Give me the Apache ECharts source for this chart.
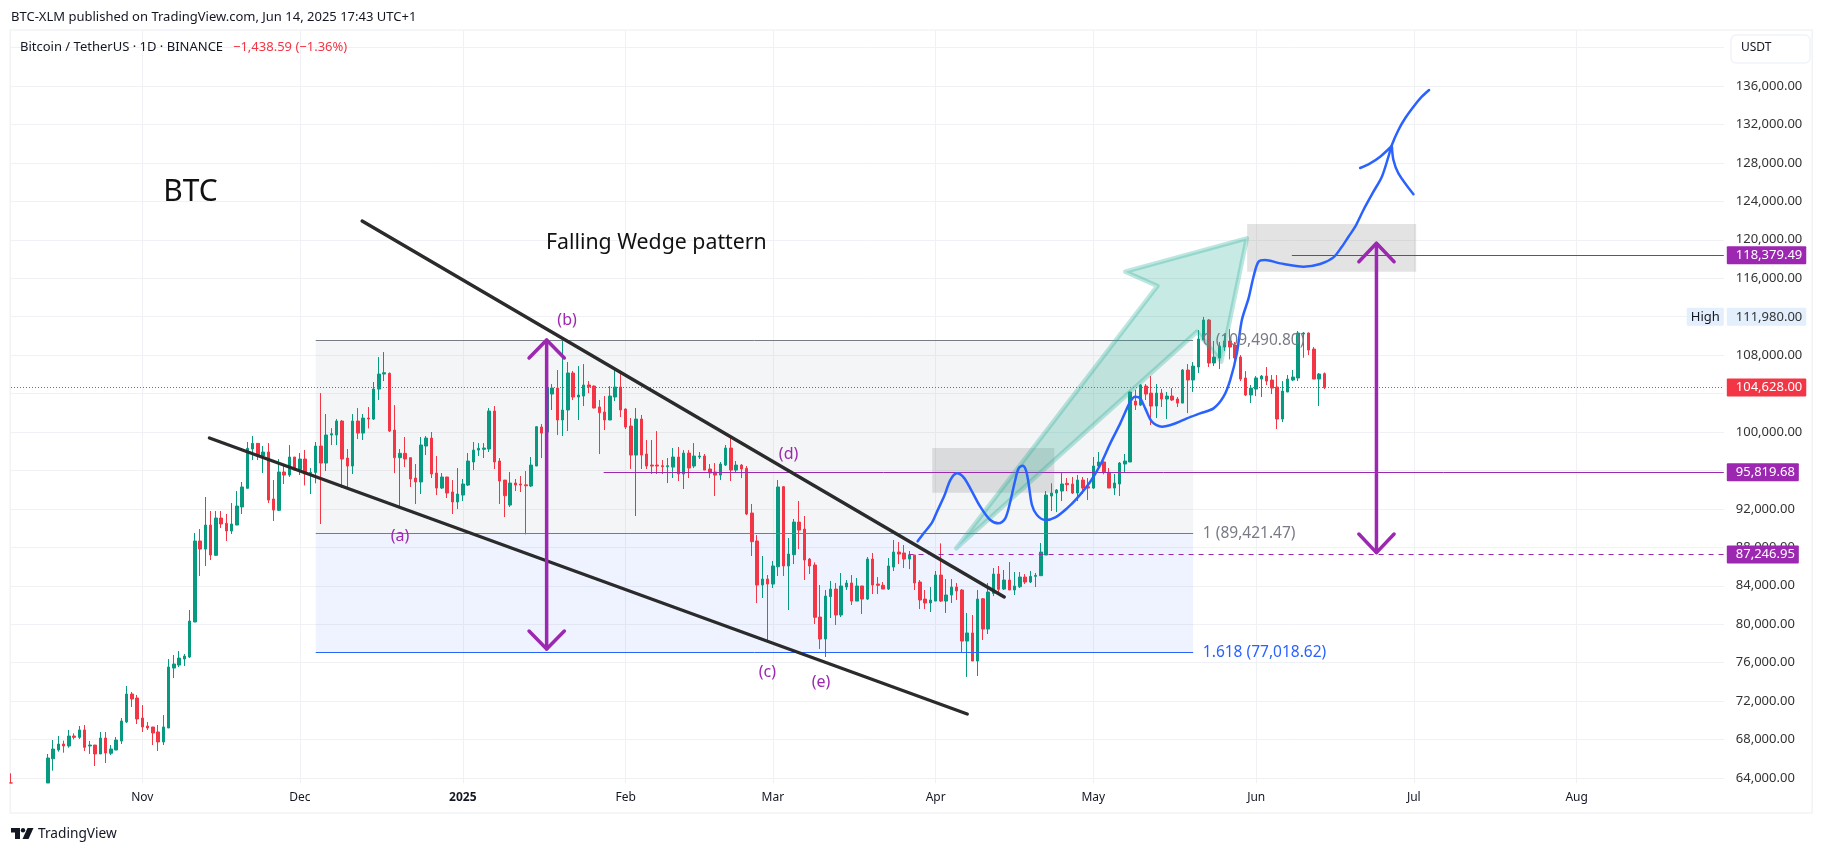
<!DOCTYPE html>
<html lang="en">
<head>
    <meta charset="UTF-8">
    <title>BTC Falling Wedge</title>
    <style>
        html, body { margin: 0; padding: 0; background: #fff; }
    </style>
</head>
<body>
<div id="main" style="width: 1824px;height:853px;"></div>
<script src="https://cdn.jsdelivr.net/npm/echarts@6/dist/echarts.min.js"></script>
<script type="text/javascript">
    // daily candles, each one is [open, close, low, high]
    // the lows of the first days run below the pane, so they stop at the pane edge
    var gap = ['-', '-', '-', '-'];
    var oct2024 = [
        [63490,63480,63480,64490], gap, gap, gap, gap, gap, gap,
        [63480,66080,63480,66500], [66000,67017,64763,67950], [66913,67537,66740,68370], [67537,67330,66635,67884],
        [67330,68370,67150,69000], [68370,68230,68020,68650], [68230,69000,68060,69410], [69000,67190,66810,69510],
        [67330,67430,66500,67850], [67430,66500,65250,67430], [66500,68160,66500,68790], [68160,66600,65560,68790],
        [66570,67020,66390,67430], [66910,67950,66910,68260], [67850,69930,67540,70240], [69830,72740,69720,73570],
        [72740,72220,71390,72950], [72320,70140,69620,72640]
    ];
    var nov2024 = [
        [70240,69310,68790,71590], [69410,69200,68990,69830], [69310,68680,67430,69310], [68790,67750,66810,69510],
        [67750,69310,67430,70550], [69200,75550,69200,76380], [75440,75860,74400,76800], [75750,76480,75550,77210],
        [76380,76690,75650,76900], [76590,80330,76480,81480], [80230,88660,80230,89490], [88660,87820,85020,89910],
        [87820,90320,86060,93240], [90320,87200,86680,91780], [87170,91050,87100,91780], [91050,90430,90010,91780],
        [90500,89700,88660,91470], [89700,90430,89390,92610], [90320,92300,90320,93860], [92200,94280,91470,94800],
        [94140,98300,94140,98960], [98230,98820,97080,99580], [98820,97500,97080,98820], [97500,97920,95730,98540],
        [97920,92920,92610,98850], [93030,91880,90740,95000], [91850,95840,91780,97190], [95840,95520,94590,96460],
        [95520,97400,95320,98640], [97400,96040,96040,97400]
    ];
    var dec2024 = [
        [96110,97190,95520,97810], [97190,95630,94450,98130], [95700,95800,93540,96250], [95800,98540,94660,98960],
        [98540,96770,90430,104050], [96770,99690,95940,101870], [99690,99820,98640,100400], [99690,101140,98640,101350],
        [101140,97190,94170,101250], [97290,96460,94170,98230], [96460,101140,95630,101870], [101140,99890,99270,102490],
        [99890,101450,99170,101870], [101450,101350,100370,102600], [101350,104470,101250,105200], [104470,106030,103330,107800],
        [106030,106170,105300,108320], [106100,100100,100000,106200], [100200,97330,95730,102800], [97330,97780,92230,98230],
        [97780,97190,96360,99480], [97330,95110,94280,97330], [95210,94800,92510,96670], [94800,98650,93550,99480],
        [98540,99370,97600,99580], [99370,95630,95210,100000], [95730,94170,93440,97500], [94170,95320,94070,95730],
        [95320,93650,93130,95320], [93760,92720,91470,95000], [92720,93550,91990,96250]
    ];
    var jan2025 = [
        [93440,94590,92820,95110], [94480,96980,94380,97810], [96880,98120,96040,98960], [98120,98300,97500,98850],
        [98200,98330,97290,98850], [98230,102180,97920,102500], [102180,96880,96150,102700], [96980,94900,92510,97290],
        [95000,93370,91150,95000], [92400,94690,92200,95840], [94690,94480,93860,95110], [94590,94480,93760,95420],
        [94500,94410,89350,95940], [94380,96560,94280,97400], [96460,100550,96460,100620], [100520,99890,97290,100830],
        [99990,104580,99900,105860], [103950,104580,102290,104990], [104580,101250,99690,106450], [101250,102290,99580,109570],
        [102290,106140,100100,107280], [106140,103640,103330,106350], [103640,103850,101250,106860], [103740,104890,102700,107070],
        [104890,104710,104050,105300], [104780,102500,102450,104850], [102600,102010,97710,103330], [102080,101250,100200,103740],
        [101250,103740,101250,104780], [103640,104680,103220,106450], [104680,102290,101560,106140]
    ];
    var feb2025 = [
        [102390,100520,100310,102450], [100620,97600,96150,101450], [97600,101350,91260,102500], [101350,97600,96150,101770],
        [97710,96460,96150,99170], [96560,96460,95630,99170], [96560,96460,95630,100100], [96490,96390,95630,97080],
        [96390,96490,94690,97290], [96350,97400,95210,98330], [97400,95630,94900,98440], [95630,97810,94070,98120],
        [97810,96250,95210,98120], [96460,97500,96250,98850], [97400,97500,97190,97920], [97500,96040,96040,97710],
        [96150,95730,95210,96670], [95840,95520,93340,96770], [95520,96670,95000,96880], [96560,98330,96460,98650],
        [98330,96040,94900,99480], [96040,96560,95840,96980], [96560,96150,95210,96670], [96220,91470,91360,96460],
        [91570,88590,87100,92510], [88660,84080,82210,89280], [84080,84700,82730,87100], [84700,84180,78180,85120]
    ];
    var mar2025 = [
        [84180,86060,83770,86580], [85980,94280,85020,95000], [94310,86060,85020,94380], [86060,87300,81480,88970],
        [87240,90630,86260,90950], [90630,89800,87820,92820], [89900,86680,84600,91260], [86780,86060,85220,86890],
        [86160,80720,80020,86440], [80750,78460,77420,84080], [78460,82930,76590,83560], [82870,83660,80650,84500],
        [83660,80960,79920,84290], [80960,83980,80750,85330], [83870,84290,83560,84600], [84290,82410,82000,85120],
        [82410,83980,82410,84810], [83980,82620,81060,83980], [82620,86780,82520,86990], [86780,84080,83140,87410],
        [84180,84050,83140,84910], [84050,83660,83660,84390], [83660,86060,83560,86890], [85950,87510,85540,88760],
        [87510,87300,86260,88550], [87410,86780,85850,88240], [86780,87200,85740,87620], [87200,84290,83560,87200],
        [84390,82520,81580,84600], [82620,82210,81580,83560], [82210,82520,81270,83870]
    ];
    var apr2025 = [
        [82410,85120,82410,85540], [85120,82410,82310,88410], [82410,83040,81170,84700], [83040,83870,82210,84700],
        [83870,83460,82520,84290], [83560,78250,77110,83660], [78250,79090,74510,81170], [79090,76170,76170,80960],
        [76170,82620,74610,83560], [82650,79500,78360,82730], [79500,83350,78980,84290], [83210,85220,82930,85850],
        [85220,83630,83140,86060], [83660,84600,83560,85640], [84600,83560,83560,86470], [83560,83980,83040,85430],
        [83900,84910,83770,85430], [84910,84390,84180,85220], [84390,84980,84290,85540], [84980,85080,83870,85330],
        [85050,87510,85050,88450], [87200,93440,87200,93860], [93340,93650,91780,94660], [93650,93960,91670,94070],
        [93860,94590,92820,95730], [94660,94520,93860,95210], [94590,93650,93550,95320], [93650,95000,92820,95520],
        [95000,94170,93550,95320], [94310,94170,92920,95210]
    ];
    var may2025 = [
        [94170,96460,94070,97400], [96460,96880,96350,97920], [96880,95800,95600,96950], [95800,94170,94170,96250],
        [94170,94690,93440,95630], [94590,96770,93340,96880], [96670,96980,95840,97710], [96880,104160,96880,104200],
        [103220,102800,102290,104400], [102800,104890,102700,104990], [104780,103950,103330,104990], [104050,102700,100730,105820],
        [102700,104050,101450,104990], [104050,103430,102600,104470], [103430,103740,101350,104160], [103740,103330,103220,104570],
        [103430,103010,102600,103640], [103010,106450,103010,106550], [106450,105410,101970,107070], [105410,106860,104160,107280],
        [106760,109670,106140,110610], [109570,111650,109590,111980], [111650,107180,106760,111750], [107180,107800,106860,109470],
        [107700,108940,106550,109360], [108840,109470,108420,110100], [109470,108840,107560,110710], [109050,107700,107070,109360],
        [107800,105510,105300,108010], [105620,103850,103740,106340], [103850,104570,103010,104890]
    ];
    var jun2025 = [
        [104470,105620,103740,105820], [105510,105820,103640,105930], [105820,105300,104890,106760], [105410,104570,103950,105930],
        [104680,101350,100310,105930], [101350,104260,101030,105300], [104160,105510,104160,105930], [105410,105720,105300,106450],
        [105620,110300,105300,110510], [110200,110300,107730,110400], [110300,108530,108010,110350], [108630,105510,105510,108840],
        [105510,106030,102700,106140], [106067,104628,104470,106200]
    ];

    // time axis
    var chartStart = '2024-10-07';
    var chartDays = 327;
    var tickDates = ['2024-11-01', '2024-12-01', '2025-01-01', '2025-02-01', '2025-03-01', '2025-04-01', '2025-05-01', '2025-06-01', '2025-07-01', '2025-08-01'];
    var tickNames = ['Nov', 'Dec', '{year|2025}', 'Feb', 'Mar', 'Apr', 'May', 'Jun', 'Jul', 'Aug'];

    // price axis
    var priceMin = 63480;
    var priceMax = 141829;
    var priceGrid = [64000, 68000, 72000, 76000, 80000, 84000, 88000, 92000, 96000, 100000, 104000, 108000, 112000, 116000, 120000, 124000, 128000, 132000, 136000, 140000];
    var priceLabels = [64000, 68000, 72000, 76000, 80000, 84000, 88000, 92000, 100000, 108000, 116000, 120000, 124000, 128000, 132000, 136000];

    // drawings, points are [day number from chartStart, price]
    var wedgeUpper = [[66.83, 121956], [189.05, 82833]];
    var wedgeLower = [[37.77, 99377], [182, 70659]];
    var fibLevels = [109490.80, 89421.47, 77018.62];
    var fibLabels = ['0 (109,490.80)', '1 (89,421.47)', '1.618 (77,018.62)'];
    var fibStart = 58, fibEnd = 225, fibLabelDay = 226.85;
    var lastPrice = 104628;
    var highPrice = 111980;
    var levelMid = 95819.68, levelMidStart = 112.8;
    var levelLow = 87246.95, levelLowStart = 170.84;
    var levelTop = 118379.49, levelTopStart = 243.79;
    var arrowLeftShaft = [[101.95, 109574], [101.95, 77422]];
    var arrowLeftTop = [[98.6, 107701], [101.95, 109574], [105.32, 107701]];
    var arrowLeftBottom = [[98.6, 79295], [101.95, 77422], [105.32, 79295]];
    var arrowRightShaft = [[259.89, 119635], [259.89, 87453]];
    var arrowRightTop = [[256.54, 117721], [259.89, 119635], [263.25, 117721]];
    var arrowRightBottom = [[256.54, 89388], [259.89, 87453], [263.25, 89388]];
    var bigArrow = [[235.22, 120156], [212.07, 116680], [218.21, 115193], [179.91, 87900], [225.71, 110437], [230.34, 107316]];
    var boxLower = [[175.35, 98337], [198.56, 93685]];
    var boxUpper = [[235.28, 121644], [267.44, 116681]];
    var blueCurve = [
        [172.56,88623],[173.7,89455],[175.29,90565],[176.24,91709],[177.7,93443],[178.78,95004],[180.04,95698],[181.31,95281],
        [182.58,94137],[184.48,92230],[186.39,90842],[187.97,90496],[189.24,91016],[190.19,92750],[191.14,95004],[191.78,96218],
        [192.54,96495],[193.17,96044],[193.68,94657],[194.32,92403],[195.27,91363],[196.85,90842],[198.76,91120],[200.98,92056],
        [202.88,93097],[205.42,94831],[207.32,96565],[209.22,98819],[211.13,100900],[213.03,103154],[213.97,103674],[214.92,103501],
        [215.88,102460],[217.15,101073],[219.05,100553],[221.27,100830],[223.81,101420],[226.34,101940],[228.88,102460],[230.78,103674],
        [232.05,105408],[233.32,108182],[234.27,111650],[235.54,113905],[236.49,116159],[237.44,117719],[238.71,117893],[241.57,117546],
        [246.01,117199],[249.18,117477],[251.71,118170],[253.3,119280],[254.57,120320],[255.84,121361],[257.41,123100],[259.32,125005],
        [260.92,126565],[262.17,128646],[262.82,129864],[264.07,131424],[265.35,132642],[266.93,133849],[268.52,134889],[269.91,135586]
    ];
    var blueBarbLeft = [[256.78,127471],[258.69,127960],[260.59,128646],[262.82,129760]];
    var blueBarbRight = [[262.82,129760],[263.12,128303],[264.07,126919],[266.93,124734]];
    var waveDays = [74.06, 105.84, 143.95, 148, 154.16];
    var wavePrices = [89180, 111603, 74957, 97712, 73989];
    var waveNames = ['(a)', '(b)', '(c)', '(d)', '(e)'];

    var textFont = '"Noto Sans", sans-serif';
    var black = '#2b2b2b', purple = '#9c27b0', blue = '#2962ff', grey = '#787b86', red = '#f23645';

    var categories = [];
    var startMs = Date.parse(chartStart + 'T00:00:00Z');
    for (var i = 0; i < chartDays; i++) {
        categories.push(new Date(startMs + i * 86400000).toISOString().slice(0, 10));
    }
    var candles = [].concat(oct2024, nov2024, dec2024, jan2025, feb2025, mar2025, apr2025, may2025, jun2025);
    var lastDay = chartDays - 1;

    function isTick(index, value) {
        return tickDates.indexOf(value) >= 0;
    }

    function money(v) {
        return v.toLocaleString('en-US', {minimumFractionDigits: 2, maximumFractionDigits: 2});
    }

    function drawLine(points, color, width, smooth) {
        return {
            type: 'line',
            xAxisIndex: 1,
            data: points,
            symbol: 'none',
            silent: true,
            smooth: smooth || false,
            z: 5,
            lineStyle: {color: color, width: width, cap: 'round', join: 'round'}
        };
    }

    // horizontal level, y is snapped to the pixel so a thin line stays crisp
    function flatLine(start, end, price, color, dash) {
        return {
            type: 'custom',
            xAxisIndex: 1,
            data: [[start, price], [end, price]],
            encode: {x: 0, y: 1},
            clip: false,
            silent: true,
            z: 3,
            renderItem: function (params, api) {
                if (params.dataIndex !== 0) {
                    return;
                }
                var a = api.coord([start, price]);
                var b = api.coord([end, price]);
                var y = Math.round(a[1] - 0.5) + 0.5;
                return {
                    type: 'line',
                    shape: {x1: a[0], y1: y, x2: b[0], y2: y},
                    style: {stroke: color, lineWidth: 1, lineDash: dash || null}
                };
            }
        };
    }

    // labels anchored at a data point, drawn with an invisible symbol
    function textSeries(items, z) {
        return {
            type: 'scatter',
            xAxisIndex: 1,
            symbolSize: 0,
            clip: false,
            silent: true,
            z: z || 8,
            itemStyle: {color: 'transparent', opacity: 1},
            data: items
        };
    }

    function textItem(day, price, text, size, color, position) {
        return {
            value: [day, price],
            label: {show: true, formatter: text, position: position || 'inside', distance: 0, fontFamily: textFont, fontSize: size, color: color}
        };
    }

    // coloured box on the price axis
    function priceTag(price, text, bg, color, position) {
        return {
            value: [lastDay, price],
            label: {
                show: true, formatter: text, position: position || 'right', distance: position ? 0 : 3,
                fontFamily: textFont, fontSize: 13, color: color, backgroundColor: bg,
                padding: position ? [3, 4, 2, 4] : [3, 4, 2, 9], borderRadius: 1
            }
        };
    }

    function renderBigArrow(params, api) {
        if (params.dataIndex !== 0) {
            return;
        }
        var pts = bigArrow.map(function (p) {
            return api.coord(p);
        });
        return {
            type: 'polygon',
            shape: {points: pts},
            style: {fill: 'rgba(34,171,148,0.25)', stroke: 'rgba(34,171,148,0.3)', lineWidth: 4.5, lineJoin: 'round'}
        };
    }

    var priceLine = flatLine(0, lastDay, lastPrice, red, [1, 2]);
    priceLine.markArea = {
        silent: true,
        data: [
            [{xAxis: fibStart, yAxis: fibLevels[0], itemStyle: {color: 'rgba(120,123,140,0.08)'}}, {xAxis: fibEnd, yAxis: fibLevels[1]}],
            [{xAxis: fibStart, yAxis: fibLevels[1], itemStyle: {color: 'rgba(41,98,255,0.08)'}}, {xAxis: fibEnd, yAxis: fibLevels[2]}],
            [{xAxis: boxLower[0][0], yAxis: boxLower[0][1], itemStyle: {color: 'rgba(128,128,128,0.22)'}}, {xAxis: boxLower[1][0], yAxis: boxLower[1][1]}],
            [{xAxis: boxUpper[0][0], yAxis: boxUpper[0][1], itemStyle: {color: 'rgba(128,128,128,0.22)'}}, {xAxis: boxUpper[1][0], yAxis: boxUpper[1][1]}]
        ]
    };

    var waveItems = waveNames.map(function (name, i) {
        return textItem(waveDays[i], wavePrices[i], name, 16, purple);
    });
    var fibItems = fibLabels.map(function (name, i) {
        return textItem(fibLabelDay, fibLevels[i], name, 15.5, i === 2 ? blue : grey, 'right');
    });
    var noteItems = [
        textItem(34.15, 124900, 'BTC', 30, '#111'),
        textItem(122.83, 119667, 'Falling Wedge pattern', 21.3, '#111')
    ];
    var tagItems = [
        priceTag(levelTop, money(levelTop), purple, '#fff'),
        priceTag(levelMid, money(levelMid), purple, '#fff'),
        priceTag(levelLow, money(levelLow), purple, '#fff'),
        priceTag(lastPrice, money(lastPrice), red, '#fff'),
        priceTag(highPrice, money(highPrice), '#e3effd', '#333'),
        priceTag(highPrice, 'High', '#e3effd', '#131722', 'left')
    ];

    var myChart = echarts.init(document.getElementById('main'));
    myChart.setOption({
        animation: false,
        backgroundColor: '#fff',
        textStyle: {fontFamily: textFont},
        title: [
            {text: 'BTC-XLM published on TradingView.com, Jun 14, 2025 17:43 UTC+1', left: 11, top: 11, padding: 0, textStyle: {fontSize: 13, fontWeight: 'normal', color: '#131722', fontFamily: textFont}},
            {text: 'Bitcoin / TetherUS · 1D · BINANCE', left: 20, top: 41, padding: 0, textStyle: {fontSize: 13, fontWeight: 'normal', color: '#131722', fontFamily: textFont}},
            {text: '−1,438.59 (−1.36%)', left: 233, top: 41, padding: 0, textStyle: {fontSize: 13, fontWeight: 'normal', color: red, fontFamily: textFont}},
            {text: 'TradingView', left: 38, top: 827, padding: 0, textStyle: {fontSize: 13.7, fontWeight: 'normal', color: '#131722', fontFamily: textFont}}
        ],
        grid: {left: 11, top: 30, width: 1712.8, height: 753, containLabel: false},
        xAxis: [
            {
                type: 'category',
                data: categories,
                boundaryGap: false,
                axisLine: {show: false},
                axisTick: {show: false},
                axisLabel: {
                    interval: isTick,
                    margin: 9,
                    fontSize: 12,
                    color: '#131722',
                    fontFamily: textFont,
                    formatter: function (value) {
                        return tickNames[tickDates.indexOf(value)];
                    },
                    rich: {year: {fontSize: 12, fontWeight: 'bold', color: '#131722', fontFamily: textFont}}
                },
                splitLine: {show: true, interval: isTick, lineStyle: {color: '#f0f1f4', width: 1}}
            },
            {type: 'value', min: 0, max: lastDay, show: false, splitLine: {show: false}}
        ],
        yAxis: {
            type: 'value',
            position: 'right',
            min: priceMin,
            max: priceMax,
            axisLine: {show: false},
            axisTick: {show: false, customValues: priceGrid},
            axisLabel: {
                customValues: priceLabels,
                margin: 12,
                fontSize: 13,
                color: '#333',
                fontFamily: textFont,
                showMinLabel: true,
                showMaxLabel: true,
                formatter: money
            },
            splitLine: {show: true, lineStyle: {color: '#f0f1f4', width: 1}}
        },
        graphic: [
            // chart frame
            {type: 'rect', shape: {x: 10.2, y: 30, width: 1802, height: 783}, style: {fill: 'none', stroke: '#f2f3f5', lineWidth: 1.5}, z: 1},
            // currency box
            {type: 'rect', shape: {x: 1731, y: 35, width: 79, height: 28, r: 5}, style: {fill: '#fff', stroke: '#f0f3fa', lineWidth: 1.5}, z: 20},
            {type: 'text', style: {x: 1741, y: 42, text: 'USDT', fill: '#131722', fontSize: 12, fontFamily: textFont}, z: 21},
            // logo
            {type: 'polygon', shape: {points: [[11, 828], [20, 828], [20, 839], [15, 839], [15, 832.5], [11, 832.5]]}, style: {fill: '#131722'}, z: 20},
            {type: 'circle', shape: {cx: 23, cy: 830.2, r: 2.2}, style: {fill: '#131722'}, z: 20},
            {type: 'polygon', shape: {points: [[27.5, 828], [33.5, 828], [28.5, 839], [22.5, 839]]}, style: {fill: '#131722'}, z: 20}
        ],
        series: [
            priceLine,
            flatLine(fibStart, fibEnd, fibLevels[0], grey),
            flatLine(fibStart, fibEnd, fibLevels[1], grey),
            flatLine(fibStart, fibEnd, fibLevels[2], blue),
            {
                type: 'candlestick',
                xAxisIndex: 0,
                data: candles,
                barWidth: 3,
                silent: true,
                z: 2,
                itemStyle: {color: '#089981', color0: red, borderColor: '#089981', borderColor0: red, borderWidth: 1}
            },
            flatLine(levelMidStart, lastDay, levelMid, purple),
            flatLine(levelLowStart, lastDay, levelLow, purple, [5, 5]),
            flatLine(levelTopStart, lastDay, levelTop, purple),
            {
                type: 'custom',
                xAxisIndex: 1,
                renderItem: renderBigArrow,
                data: bigArrow,
                encode: {x: 0, y: 1},
                clip: false,
                silent: true,
                z: 4
            },
            drawLine(wedgeUpper, black, 3.4),
            drawLine(wedgeLower, black, 3.4),
            drawLine(arrowLeftShaft, purple, 3.5),
            drawLine(arrowLeftTop, purple, 3.5),
            drawLine(arrowLeftBottom, purple, 3.5),
            drawLine(arrowRightShaft, purple, 3.5),
            drawLine(arrowRightTop, purple, 3.5),
            drawLine(arrowRightBottom, purple, 3.5),
            drawLine(blueCurve, blue, 2.5, 0.3),
            drawLine(blueBarbLeft, blue, 2.5, 0.3),
            drawLine(blueBarbRight, blue, 2.5, 0.3),
            textSeries(waveItems),
            textSeries(fibItems),
            textSeries(noteItems),
            textSeries(tagItems, 10)
        ]
    });
</script>
</body>
</html>
